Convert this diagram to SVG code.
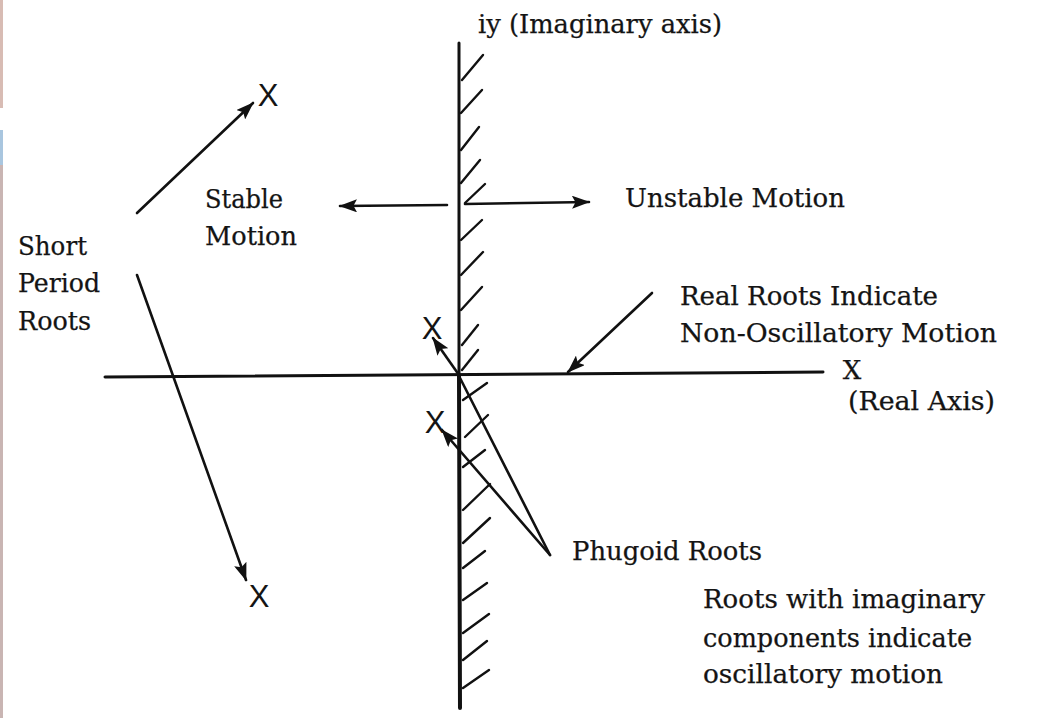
<svg xmlns="http://www.w3.org/2000/svg" width="1038" height="718" viewBox="0 0 1038 718">
<style>
text{font-family:"DejaVu Serif","Liberation Serif",serif;font-size:25.5px;fill:#141414;stroke:#141414;stroke-width:0.25}
.mk{font-family:"Liberation Sans","DejaVu Sans",sans-serif;font-size:31px;text-anchor:middle;stroke-width:0}
.ln{stroke:#111;stroke-width:2.6;fill:none;stroke-linecap:round}
.ax{stroke:#111;stroke-width:3;fill:none;stroke-linecap:round}
.ht{stroke:#111;stroke-width:2.4;fill:none;stroke-linecap:round}
</style>
<defs>
<marker id="ah" markerUnits="userSpaceOnUse" markerWidth="18" markerHeight="13" viewBox="0 0 18 13" refX="17" refY="6.5" orient="auto">
<path d="M0,0 L18,6.5 L0,13 L3.5,6.5 z" fill="#111"/>
</marker>
</defs>
<rect width="1038" height="718" fill="#fff"/>
<g id="scan-edge">
<rect x="0" y="0" width="3" height="108" fill="#d8bcb4"/>
<rect x="0" y="130" width="3" height="35" fill="#a9c6df"/>
<rect x="0" y="165" width="3" height="553" fill="#c9b5b3"/>
</g>
<g id="imaginary-axis">
<line class="ax" x1="459" y1="43" x2="459" y2="376"/>
<line class="ax" x1="459" y1="376" x2="460" y2="708" style="stroke-width:4"/>
<g id="hatching">
<line class="ht" x1="462" y1="80" x2="483" y2="55"/>
<line class="ht" x1="461" y1="113" x2="482" y2="90"/>
<line class="ht" x1="461" y1="150" x2="479" y2="127"/>
<line class="ht" x1="461" y1="183" x2="480" y2="160"/>
<line class="ht" x1="465" y1="203" x2="485" y2="184"/>
<line class="ht" x1="461" y1="240" x2="482" y2="220"/>
<line class="ht" x1="461" y1="275" x2="483" y2="252"/>
<line class="ht" x1="461" y1="310" x2="482" y2="287"/>
<line class="ht" x1="462" y1="345" x2="478" y2="325"/>
<line class="ht" x1="462" y1="370" x2="478" y2="350"/>
<line class="ht" x1="463" y1="400" x2="487" y2="383"/>
<line class="ht" x1="465" y1="437" x2="488" y2="415"/>
<line class="ht" x1="463" y1="467" x2="485" y2="450"/>
<line class="ht" x1="463" y1="510" x2="490" y2="484"/>
<line class="ht" x1="463" y1="543" x2="490" y2="518"/>
<line class="ht" x1="463" y1="568" x2="485" y2="551"/>
<line class="ht" x1="463" y1="600" x2="487" y2="583"/>
<line class="ht" x1="463" y1="633" x2="489" y2="614"/>
<line class="ht" x1="463" y1="660" x2="487" y2="641"/>
<line class="ht" x1="463" y1="688" x2="489" y2="670"/>
</g>
</g>
<g id="real-axis">
<line class="ax" x1="105" y1="377" x2="823" y2="372"/>
</g>
<g id="connectors">
<line class="ln" x1="137" y1="213" x2="253" y2="103" marker-end="url(#ah)"/>
<line class="ln" x1="137" y1="275" x2="246" y2="580" marker-end="url(#ah)"/>
<line class="ln" x1="447" y1="205" x2="340" y2="206" marker-end="url(#ah)"/>
<line class="ln" x1="465" y1="204" x2="589" y2="202" marker-end="url(#ah)"/>
<line class="ln" x1="652" y1="293" x2="568" y2="372" marker-end="url(#ah)"/>
<line class="ln" x1="459" y1="375" x2="433" y2="338" marker-end="url(#ah)"/>
<line class="ln" x1="550" y1="555" x2="442" y2="430" marker-end="url(#ah)"/>
<line class="ln" x1="459" y1="376" x2="550" y2="555"/>
</g>
<g id="roots">
<text class="mk" x="268" y="106">X</text>
<text class="mk" x="259" y="607">X</text>
<text class="mk" x="432" y="339">X</text>
<text class="mk" x="435" y="433">X</text>
<text x="852" y="379" style="text-anchor:middle;font-size:26px">X</text>
</g>
<g id="labels">
<text x="478" y="33" textLength="244" lengthAdjust="spacingAndGlyphs">iy (Imaginary axis)</text>
<text x="205" y="208" textLength="78" lengthAdjust="spacingAndGlyphs">Stable</text>
<text x="205" y="245" textLength="92" lengthAdjust="spacingAndGlyphs">Motion</text>
<text x="625" y="207" textLength="220" lengthAdjust="spacingAndGlyphs">Unstable Motion</text>
<text x="18" y="255" textLength="69" lengthAdjust="spacingAndGlyphs">Short</text>
<text x="18" y="292" textLength="82" lengthAdjust="spacingAndGlyphs">Period</text>
<text x="18" y="330" textLength="73" lengthAdjust="spacingAndGlyphs">Roots</text>
<text x="680" y="305" textLength="258" lengthAdjust="spacingAndGlyphs">Real Roots Indicate</text>
<text x="680" y="342" textLength="317" lengthAdjust="spacingAndGlyphs">Non-Oscillatory Motion</text>
<text x="848" y="410" textLength="147" lengthAdjust="spacingAndGlyphs">(Real Axis)</text>
<text x="572" y="560" textLength="190" lengthAdjust="spacingAndGlyphs">Phugoid Roots</text>
<text x="703" y="608" textLength="282" lengthAdjust="spacingAndGlyphs">Roots with imaginary</text>
<text x="703" y="647" textLength="269" lengthAdjust="spacingAndGlyphs">components indicate</text>
<text x="703" y="683" textLength="240" lengthAdjust="spacingAndGlyphs">oscillatory motion</text>
</g>
</svg>
